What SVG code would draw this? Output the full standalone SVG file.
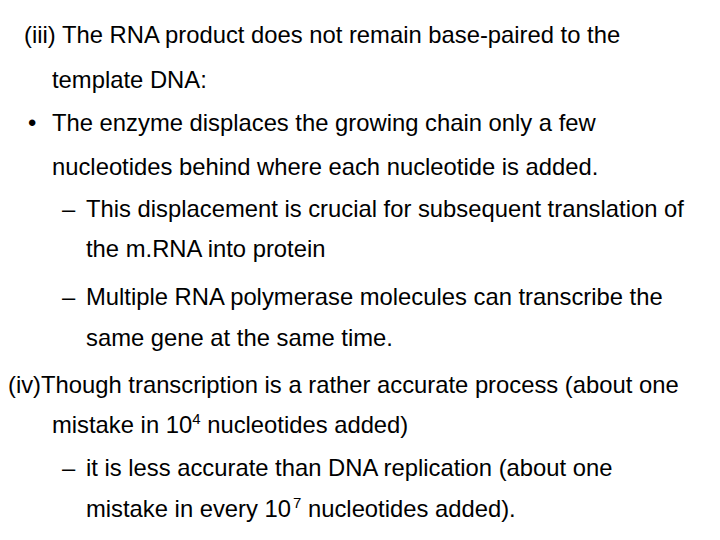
<svg xmlns="http://www.w3.org/2000/svg" width="720" height="540" viewBox="0 0 720 540">
<style>
text{font-family:"Liberation Sans",Arial,sans-serif;font-size:23.8px;fill:#000}
.sup{font-size:15px}
</style>
<rect width="720" height="540" fill="#fff"/>
<g id="content">
<text x="24" y="43">(iii) The RNA product does not remain base-paired to the</text>
<text x="52" y="88">template DNA:</text>
<text x="28" y="131">•</text>
<text x="52" y="131">The enzyme displaces the growing chain only a few</text>
<text x="52" y="175">nucleotides behind where each nucleotide is added.</text>
<text x="62" y="217">–</text>
<text x="86" y="217">This displacement is crucial for subsequent translation of</text>
<text x="86" y="257">the m.RNA into protein</text>
<text x="62" y="305">–</text>
<text x="86" y="305">Multiple RNA polymerase molecules can transcribe the</text>
<text x="86" y="346">same gene at the same time.</text>
<text x="8" y="393">(iv)Though transcription is a rather accurate process (about one</text>
<text x="52" y="433">mistake in 10<tspan class="sup" dy="-9">4</tspan><tspan dy="9"> nucleotides added)</tspan></text>
<text x="62" y="476">–</text>
<text x="86" y="476">it is less accurate than DNA replication (about one</text>
<text x="86" y="517">mistake in every 10<tspan class="sup" dy="-9" dx="2">7</tspan><tspan dy="9"> nucleotides added).</tspan></text>
</g>
</svg>
